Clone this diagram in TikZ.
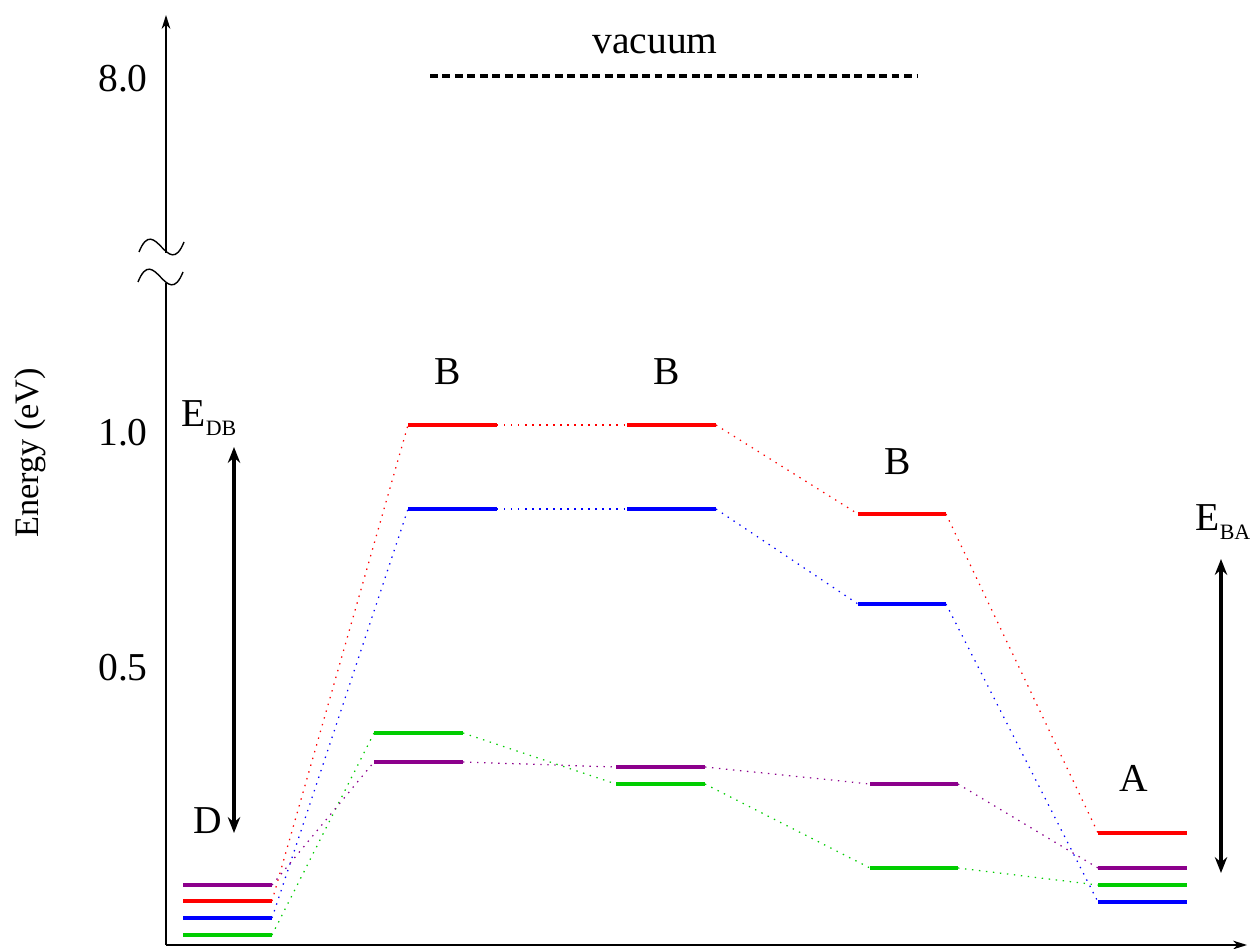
\documentclass[tikz,border=0pt]{standalone}
\usepackage{fontspec}
\setmainfont{Liberation Serif}
\usetikzlibrary{arrows.meta}
\definecolor{lvred}{RGB}{255,0,0}
\definecolor{lvblue}{RGB}{0,0,255}
\definecolor{lvgreen}{RGB}{0,205,0}
\definecolor{lvpurple}{RGB}{140,0,140}
\tikzset{
  level/.style={line width=2.2pt},
  link/.style={line width=0.7pt, dash pattern=on 0.8pt off 3.2pt},
  gap/.style={line width=2pt, {Stealth[length=9pt,width=7pt]}-{Stealth[length=9pt,width=7pt]}},
  axis/.style={line width=0.8pt},
  lbl/.style={font=\fontsize{22.5}{26}\selectfont}
}
\newcommand{\sublbl}[2]{#1\raisebox{-5.5pt}{\fontsize{12.5}{14}\selectfont #2}}
\begin{document}
\begin{tikzpicture}[x=0.02cm,y=-0.02cm]
  \useasboundingbox (0,0) rectangle (1257,949);
  % axes
  \coordinate (O) at (166,945);
  \coordinate (Xend) at (1247,945);
  \coordinate (Ytop) at (166,15);
  \coordinate (Bk1) at (166,253);
  \coordinate (Bk2) at (166,283);
  \draw[axis,-{Stealth[length=8pt,width=5pt]}] (O) -- (Xend);
  \draw[axis] (O) -- (Bk2);
  \draw[axis,-{Stealth[length=8pt,width=5pt]}] (Bk1) -- (Ytop);
  \draw[axis] (139,252) .. controls (155,212) and (168,282) .. (184,242);
  \draw[axis] (138,282) .. controls (154,242) and (167,312) .. (183,272);
  \node[lbl] (t80) at (123,79) {8.0};
  \node[lbl] (t10) at (123,433) {1.0};
  \node[lbl] (t05) at (123,668) {0.5};
  \node[font=\fontsize{19.5}{23}\selectfont, rotate=90] (ylab) at (30,453) {Energy (eV)};
  % vacuum
  \coordinate (V1) at (430,76);
  \coordinate (V2) at (918,76);
  \draw[line width=2pt, dash pattern=on 4.5pt off 2.6pt] (V1) -- (V2);
  \node[lbl] (vac) at (655,44) {vacuum};
  % levels
  \foreach \nm/\xa/\xb/\yy/\cl in {
      Dp/183/272/885/lvpurple, Dr/183/272/901/lvred, Db/183/272/918/lvblue, Dg/183/272/935/lvgreen,
      Ar/408/497/425/lvred, Ab/408/497/509/lvblue, Ag/374/463/733/lvgreen, Ap/374/463/762/lvpurple,
      Br/627/716/425/lvred, Bb/627/716/509/lvblue, Bp/616/705/767/lvpurple, Bg/616/705/784/lvgreen,
      Cr/858/946/514/lvred, Cb/858/946/604/lvblue, Cp/870/958/784/lvpurple, Cg/870/958/868/lvgreen,
      Er/1098/1187/833/lvred, Ep/1098/1187/868/lvpurple, Eg/1098/1187/885/lvgreen, Eb/1098/1187/902/lvblue} {
    \coordinate (\nm-l) at (\xa,\yy);
    \coordinate (\nm-r) at (\xb,\yy);
    \draw[level,\cl] (\nm-l) -- (\nm-r);
  }
  % correlation lines
  \foreach \a/\b/\cl in {
      Dr/Ar/lvred, Db/Ab/lvblue, Dg/Ag/lvgreen, Dp/Ap/lvpurple,
      Ar/Br/lvred, Ab/Bb/lvblue, Ag/Bg/lvgreen, Ap/Bp/lvpurple,
      Br/Cr/lvred, Bb/Cb/lvblue, Bg/Cg/lvgreen, Bp/Cp/lvpurple,
      Cr/Er/lvred, Cb/Eb/lvblue, Cg/Eg/lvgreen, Cp/Ep/lvpurple} {
    \draw[link,\cl] (\a-r) -- (\b-l);
  }
  % site labels
  \node[lbl] (sD) at (208,821) {D};
  \node[lbl] (sB1) at (448,372) {B};
  \node[lbl] (sB2) at (667,372) {B};
  \node[lbl] (sB3) at (898,462) {B};
  \node[lbl] (sA) at (1134,778) {A};
  % energy gaps
  \node[lbl] (eDB) at (209,418) {\sublbl{E}{DB}};
  \coordinate (DBt) at (234,447);
  \coordinate (DBb) at (234,833);
  \draw[gap] (DBt) -- (DBb);
  \node[lbl] (eBA) at (1223,522) {\sublbl{E}{BA}};
  \coordinate (BAt) at (1221,559);
  \coordinate (BAb) at (1221,873);
  \draw[gap] (BAt) -- (BAb);
\end{tikzpicture}
\end{document}
